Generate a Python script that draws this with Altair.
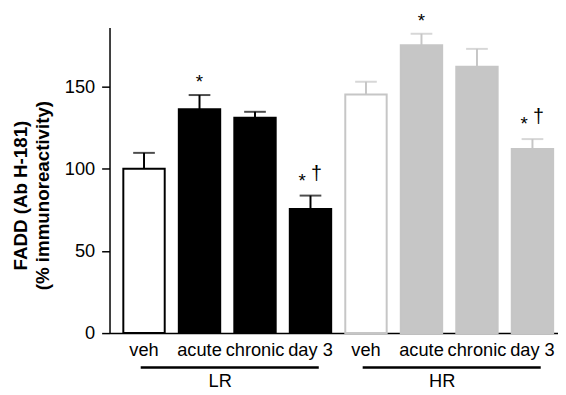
import altair as alt
import pandas as pd

groups = ["LR", "LR", "LR", "LR", "HR", "HR", "HR", "HR"]
conditions = ["veh", "acute", "chronic", "day 3", "veh", "acute", "chronic", "day 3"]
means = [100.0, 136.2, 131.1, 75.5, 145.2, 175.2, 162.2, 112.1]
upper = [109.7, 144.9, 134.7, 83.7, 153.0, 182.2, 173.0, 118.1]
stars = ["", "*", "", "*", "", "*", "", "*"]
daggers = ["", "", "", "†", "", "", "", "†"]
y_ticks = [0, 50, 100, 150]
group_names = ["LR", "HR"]

keys = [f"{g}|{c}" for g, c in zip(groups, conditions)]
kinds = [g + ("_veh" if c == "veh" else "_drug") for g, c in zip(groups, conditions)]

df = pd.DataFrame({
    "key": keys, "group": groups, "condition": conditions,
    "mean": means, "upper": upper, "star": stars, "dagger": daggers, "kind": kinds,
})

gdf = pd.DataFrame({
    "group": group_names,
    "start": [f"{g}|veh" for g in group_names],
    "mid": [f"{g}|acute" for g in group_names],
    "end": [f"{g}|day 3" for g in group_names],
})

GRAY = "#c6c6c6"
FS = 18.5
xscale = alt.Scale(domain=keys, paddingInner=0.254, paddingOuter=0.168, align=0.74)
x_enc = alt.X("key:N", sort=keys, scale=xscale,
              axis=alt.Axis(labelExpr="split(datum.label, '|')[1]", ticks=False, labelAngle=0,
                            labelFontSize=FS, labelPadding=8, labelColor="black",
                            domainColor="black", domainWidth=1.5, title=None))
yscale = alt.Scale(domain=[0, 186], nice=False)

fill_scale = alt.Scale(domain=["LR_veh", "LR_drug", "HR_veh", "HR_drug"],
                       range=["white", "black", "white", GRAY])
stroke_scale = alt.Scale(domain=["LR_veh", "LR_drug", "HR_veh", "HR_drug"],
                         range=["black", "black", GRAY, GRAY])
grp_scale = alt.Scale(domain=["LR", "HR"], range=["black", GRAY])

bars = alt.Chart(df).mark_bar(strokeWidth=2).encode(
    x=x_enc,
    y=alt.Y("mean:Q", scale=yscale,
            axis=alt.Axis(values=y_ticks, grid=False, tickSize=8, tickColor="black", tickWidth=1.5,
                          domainColor="black", domainWidth=1.5, labelFontSize=FS, labelPadding=7,
                          labelColor="black",
                          title=["FADD (Ab H-181)", "(% immunoreactivity)"],
                          titleFontSize=19, titleFontWeight="bold", titleColor="black",
                          titleX=-80, titleY=170, titleLineHeight=22)),
    fill=alt.Fill("kind:N", scale=fill_scale, legend=None),
    stroke=alt.Stroke("kind:N", scale=stroke_scale, legend=None),
)

err = alt.Chart(df).mark_rule(strokeWidth=2).encode(
    x=alt.X("key:N", sort=keys),
    y=alt.Y("mean:Q", scale=yscale),
    y2="upper:Q",
    color=alt.Color("group:N", scale=grp_scale, legend=None),
)

caps = alt.Chart(df).mark_tick(thickness=2, size=22).encode(
    x=alt.X("key:N", sort=keys),
    y=alt.Y("upper:Q", scale=yscale),
    color=alt.Color("group:N", scale=grp_scale, legend=None),
)

star_acute = alt.Chart(df).transform_filter(
    "datum.star != '' && datum.condition == 'acute'"
).mark_text(fontSize=19, dy=-7, baseline="alphabetic", color="black").encode(
    x=alt.X("key:N", sort=keys), y=alt.Y("upper:Q", scale=yscale), text="star:N")

star_day3 = alt.Chart(df).transform_filter(
    "datum.star != '' && datum.condition == 'day 3'"
).mark_text(fontSize=19, dy=-9, dx=-8.5, baseline="alphabetic", color="black").encode(
    x=alt.X("key:N", sort=keys), y=alt.Y("upper:Q", scale=yscale), text="star:N")

dagger = alt.Chart(df).transform_filter("datum.dagger != ''").mark_text(
    fontSize=20, dy=-16, dx=6, baseline="alphabetic", color="black").encode(
    x=alt.X("key:N", sort=keys), y=alt.Y("upper:Q", scale=yscale), text="dagger:N")

glines = alt.Chart(gdf).mark_rule(strokeWidth=2.5, color="black").encode(
    x=alt.X("start:N", sort=keys, bandPosition=0.42),
    x2=alt.X2("end:N", bandPosition=0.7),
    y=alt.value(345),
)

glabels = alt.Chart(gdf).mark_text(fontSize=FS, baseline="alphabetic", color="black").encode(
    x=alt.X("mid:N", sort=keys, bandPosition=1),
    y=alt.value(365),
    text="group:N",
)

chart = alt.layer(bars, err, caps, star_acute, star_day3, dagger, glines, glabels).properties(
    width=455, height=310,
    autosize=alt.AutoSizeParams(type="none"),
    padding={"left": 103, "top": 17, "right": 0, "bottom": 60},
).configure(font="Liberation Sans").configure_view(stroke=None)

chart.save("out.html", embed_options={"renderer": "svg", "actions": False})
